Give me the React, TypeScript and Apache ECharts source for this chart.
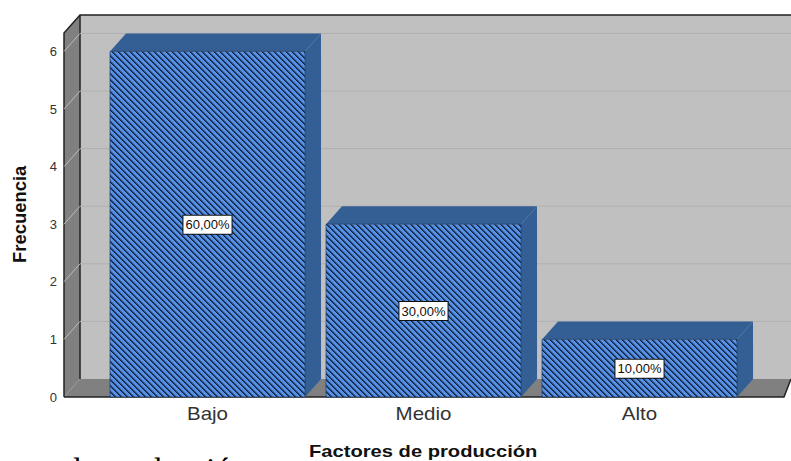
import React, { useEffect, useRef } from "react";
import * as echarts from "echarts";

const categories = ["Bajo", "Medio", "Alto"];
const frequencies = [6, 3, 1];
const percentLabels = ["60,00%", "30,00%", "10,00%"];
const yTicks = [0, 1, 2, 3, 4, 5, 6];
const xTitle = "Factores de producción";
const yTitle = "Frecuencia";
const clippedDocumentText = "de producción";

const DEPTH_X = 16;
const DEPTH_Y = 18;
const FRONT_LEFT = 64;
const FRONT_RIGHT = 784;
const PAGE_RIGHT = 791;
const SANS = '"Liberation Sans", Arial, sans-serif';

function hatchTile(): string {
  const c = document.createElement("canvas");
  c.width = 6;
  c.height = 6;
  const g = c.getContext("2d")!;
  for (let y = 0; y < 6; y++) {
    for (let x = 0; x < 6; x++) {
      const k = (((x - y) % 6) + 6) % 6;
      g.fillStyle = k === 0 ? "#10213c" : k === 1 ? "#274673" : k === 2 ? "#4273bb" : "#5592e8";
      g.fillRect(x, y, 1, 1);
    }
  }
  return c.toDataURL();
}

export default function App() {
  const ref = useRef<HTMLDivElement>(null);
  useEffect(() => {
    document.body.style.margin = "0";
    const chart = echarts.init(ref.current!, null, { renderer: "svg" });
    const tile = hatchTile();
    const hatch: any = { image: tile, repeat: "repeat", imageWidth: 6, imageHeight: 6 };

    const renderBackdrop = (params: any, api: any) => {
      const y = api.coord([0, api.value(1)])[1];
      const children: any[] = [];
      if (params.dataIndex === 0) {
        const bottom = y;
        const top = api.coord([0, 6.32])[1];
        children.push(
          { type: "rect", shape: { x: FRONT_LEFT + DEPTH_X, y: top - DEPTH_Y, width: PAGE_RIGHT - FRONT_LEFT - DEPTH_X, height: bottom - top }, style: { fill: "#c0c0c0" } },
          { type: "polygon", shape: { points: [[FRONT_LEFT, top], [FRONT_LEFT + DEPTH_X, top - DEPTH_Y], [FRONT_LEFT + DEPTH_X, bottom - DEPTH_Y], [FRONT_LEFT, bottom]] }, style: { fill: "#808080" } },
          { type: "polygon", shape: { points: [[FRONT_LEFT, bottom], [FRONT_LEFT + DEPTH_X, bottom - DEPTH_Y], [PAGE_RIGHT, bottom - DEPTH_Y], [FRONT_RIGHT, bottom]] }, style: { fill: "#808080" } },
          { type: "polyline", shape: { points: [[FRONT_LEFT, bottom], [FRONT_LEFT, top], [FRONT_LEFT + DEPTH_X, top - DEPTH_Y], [PAGE_RIGHT, top - DEPTH_Y]] }, style: { fill: "none", stroke: "#222", lineWidth: 1.5 } },
          { type: "line", shape: { x1: FRONT_LEFT + DEPTH_X, y1: top - DEPTH_Y, x2: FRONT_LEFT + DEPTH_X, y2: bottom - DEPTH_Y }, style: { stroke: "#222", lineWidth: 1.5 } },
          { type: "polyline", shape: { points: [[FRONT_LEFT, bottom], [FRONT_RIGHT, bottom], [PAGE_RIGHT, bottom - DEPTH_Y]] }, style: { fill: "none", stroke: "#222", lineWidth: 1.5 } }
        );
      } else {
        children.push(
          { type: "line", shape: { x1: FRONT_LEFT + DEPTH_X, y1: y - DEPTH_Y, x2: PAGE_RIGHT, y2: y - DEPTH_Y }, style: { stroke: "#b0b0b0", lineWidth: 1 } },
          { type: "line", shape: { x1: FRONT_LEFT, y1: y, x2: FRONT_LEFT + DEPTH_X, y2: y - DEPTH_Y }, style: { stroke: "#bdbdbd", lineWidth: 1 } }
        );
      }
      return { type: "group", children };
    };

    const renderBar = (params: any, api: any) => {
      const idx = api.value(0);
      const val = api.value(1);
      const base = api.coord([idx, 0]);
      const head = api.coord([idx, val]);
      const w = api.size([1, 0])[0] * 0.903;
      const l = base[0] - w / 2;
      const r = base[0] + w / 2;
      const t = head[1];
      const b = base[1];
      return {
        type: "group",
        children: [
          { type: "polygon", shape: { points: [[l, t], [l + DEPTH_X, t - DEPTH_Y], [r + DEPTH_X, t - DEPTH_Y], [r, t]] }, style: { fill: "#345f94" } },
          { type: "polygon", shape: { points: [[r, t], [r + DEPTH_X, t - DEPTH_Y], [r + DEPTH_X, b - DEPTH_Y], [r, b]] }, style: { fill: "#345f94" } },
          { type: "rect", shape: { x: l, y: t, width: r - l, height: b - t }, style: { fill: hatch, stroke: "#1c3050", lineWidth: 0.6 } },
          {
            type: "text",
            style: {
              x: base[0],
              y: (t + b) / 2 + 0.5,
              text: percentLabels[idx],
              align: "center",
              verticalAlign: "middle",
              fontFamily: SANS,
              fontSize: 13,
              fill: "#111",
              backgroundColor: "#fff",
              borderColor: "#111",
              borderWidth: 1,
              padding: [3, 2, 2, 2],
            },
          },
          {
            type: "text",
            x: base[0],
            y: b + 17,
            scaleX: 1.14,
            style: {
              text: categories[idx],
              align: "center",
              verticalAlign: "middle",
              fontFamily: SANS,
              fontSize: 18,
              fill: "#333",
            },
          },
        ],
      };
    };

    chart.setOption({
      animation: false,
      backgroundColor: "#fff",
      grid: { left: 99.5, top: 33, width: 648, height: 364 },
      xAxis: {
        type: "category",
        data: categories,
        axisLine: { show: false },
        axisTick: { show: false },
        axisLabel: { show: false },
      },
      yAxis: {
        type: "value",
        min: 0,
        max: 6.32,
        interval: 1,
        offset: 35.5,
        axisLine: { show: false },
        axisTick: { show: false },
        splitLine: { show: false },
        axisLabel: { fontFamily: SANS, fontSize: 13, color: "#333", margin: 7, showMaxLabel: false, padding: [2, 0, 0, 0] },
      },
      graphic: [
        {
          type: "text",
          x: 309,
          y: 444,
          scaleX: 1.26,
          style: { text: xTitle, fontFamily: SANS, fontWeight: "bold", fontSize: 16, fill: "#111" },
        },
        {
          type: "text",
          x: 10,
          y: 263,
          rotation: Math.PI / 2,
          scaleX: 0.97,
          style: { text: yTitle, fontFamily: SANS, fontWeight: "bold", fontSize: 19, fill: "#111" },
        },
        {
          type: "text",
          x: 65,
          y: 453,
          style: { text: clippedDocumentText, fontFamily: '"Liberation Serif", serif', fontSize: 32, fill: "#000" },
        },
      ],
      series: [
        {
          type: "custom",
          coordinateSystem: "cartesian2d",
          encode: { x: 0, y: 1 },
          data: yTicks.map((t) => [0, t]),
          renderItem: renderBackdrop,
          silent: true,
          z: 1,
        },
        {
          type: "custom",
          coordinateSystem: "cartesian2d",
          encode: { x: 0, y: 1 },
          data: frequencies.map((v, i) => [i, v]),
          renderItem: renderBar,
          z: 2,
        },
      ],
    });
    return () => chart.dispose();
  }, []);
  return <div ref={ref} style={{ width: 791, height: 461, overflow: "hidden" }} />;
}
